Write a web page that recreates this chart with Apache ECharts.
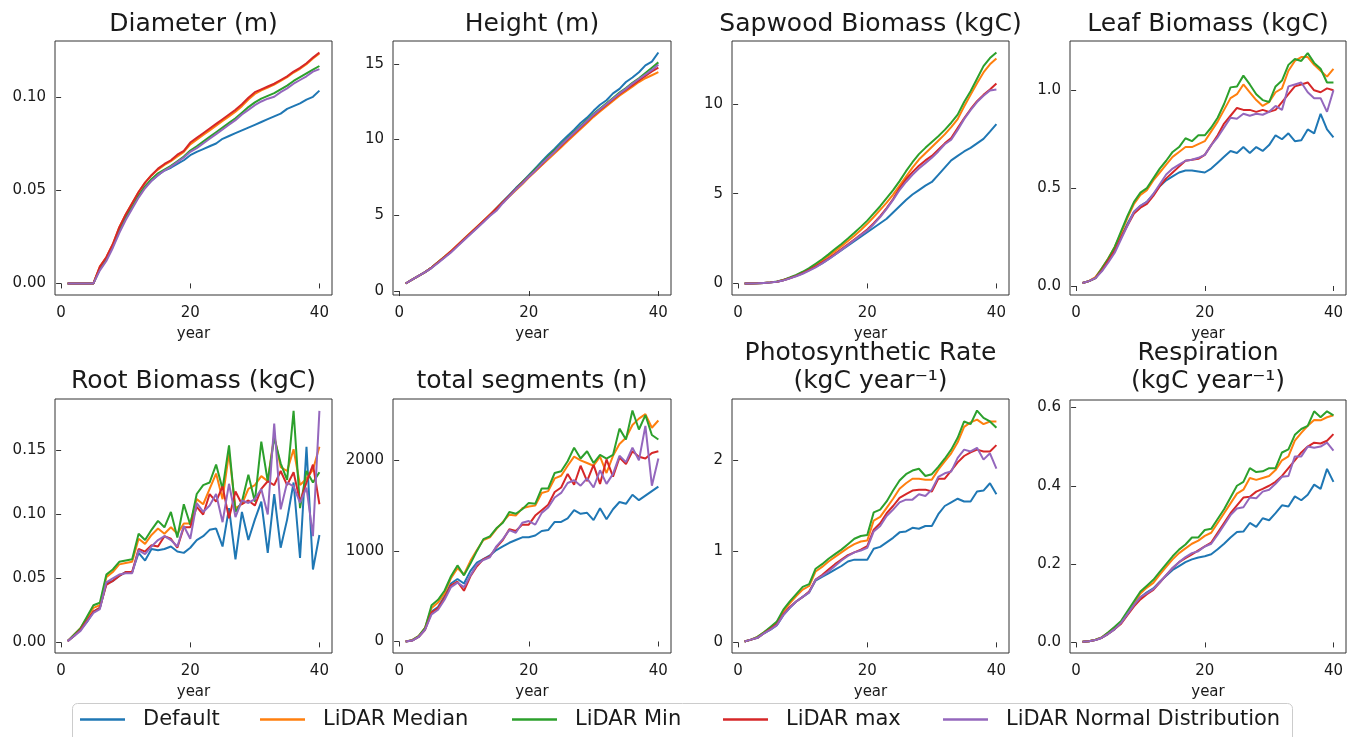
<!DOCTYPE html>
<html>
<head>
<meta charset="utf-8">
<script src="https://cdn.jsdelivr.net/npm/echarts@6/dist/echarts.min.js"></script>
<style>html,body{margin:0;padding:0;background:#fff;}#c{width:1354px;height:737px;}</style>
</head>
<body>
<div id="c"></div>
<script>
const years = [1,2,3,4,5,6,7,8,9,10,11,12,13,14,15,16,17,18,19,20,21,22,23,24,25,26,27,28,29,30,31,32,33,34,35,36,37,38,39,40];
const seriesNames = ['Default','LiDAR Median','LiDAR Min','LiDAR max','LiDAR Normal Distribution'];
const colors = ['#1f77b4','#ff7f0e','#2ca02c','#d62728','#9467bd'];

// order of each panel: Default, Median, Min, max, Normal
const diameter = [
  [0,0,0,0,0,0.008,0.013,0.020,0.028,0.035,0.041,0.047,0.052,0.055,0.058,0.0605,0.062,0.064,0.066,0.0687,0.0705,0.072,0.0735,0.075,0.0775,0.079,0.0805,0.082,0.0835,0.085,0.0865,0.088,0.0895,0.091,0.0935,0.095,0.0965,0.0985,0.1,0.1033],
  [0,0,0,0,0,0.009,0.014,0.021,0.030,0.037,0.043,0.049,0.054,0.058,0.061,0.0635,0.0655,0.068,0.0705,0.0745,0.077,0.0795,0.082,0.0845,0.087,0.0895,0.092,0.095,0.0985,0.1015,0.1035,0.105,0.1065,0.1085,0.1105,0.113,0.115,0.1175,0.1205,0.1232],
  [0,0,0,0,0,0.008,0.013,0.020,0.029,0.036,0.041,0.047,0.052,0.056,0.059,0.061,0.063,0.0655,0.068,0.0712,0.0735,0.076,0.0785,0.081,0.0835,0.086,0.0885,0.0915,0.0945,0.097,0.099,0.1005,0.102,0.104,0.106,0.1085,0.1105,0.1125,0.1145,0.1165],
  [0,0,0,0,0,0.009,0.014,0.021,0.030,0.037,0.043,0.049,0.054,0.058,0.0615,0.064,0.066,0.069,0.071,0.0755,0.078,0.0805,0.083,0.0855,0.088,0.0905,0.093,0.096,0.0995,0.1025,0.104,0.1055,0.107,0.109,0.111,0.1135,0.1155,0.118,0.121,0.1237],
  [0,0,0,0,0,0.007,0.012,0.019,0.027,0.034,0.040,0.046,0.051,0.055,0.058,0.0605,0.0625,0.065,0.0675,0.0705,0.0725,0.075,0.0775,0.08,0.0825,0.085,0.0875,0.0905,0.093,0.0955,0.0975,0.099,0.1,0.1025,0.1045,0.107,0.109,0.111,0.1135,0.1148]
];
const height = [
  [0.5,0.75,1.0,1.25,1.55,1.9,2.25,2.6,3.0,3.4,3.8,4.2,4.6,5.0,5.45,5.9,6.35,6.8,7.2,7.65,8.1,8.55,9.0,9.4,9.85,10.25,10.65,11.1,11.45,11.9,12.3,12.6,13.05,13.35,13.8,14.1,14.45,14.9,15.15,15.75],
  [0.5,0.75,1.0,1.25,1.55,1.92,2.28,2.65,3.05,3.45,3.85,4.25,4.65,5.05,5.45,5.85,6.25,6.65,7.05,7.5,7.9,8.3,8.7,9.1,9.5,9.9,10.3,10.7,11.1,11.5,11.85,12.2,12.55,12.9,13.2,13.5,13.8,14.05,14.25,14.45],
  [0.5,0.75,1.0,1.25,1.55,1.9,2.25,2.6,3.0,3.4,3.8,4.2,4.6,5.0,5.45,5.9,6.3,6.75,7.2,7.6,8.05,8.45,8.9,9.3,9.7,10.1,10.5,10.9,11.3,11.7,12.05,12.4,12.75,13.1,13.4,13.75,14.05,14.4,14.75,15.1],
  [0.5,0.75,1.0,1.25,1.55,1.9,2.25,2.62,3.02,3.42,3.82,4.22,4.62,5.02,5.45,5.88,6.3,6.72,7.15,7.55,7.95,8.35,8.8,9.2,9.6,10.0,10.4,10.8,11.2,11.6,11.95,12.3,12.65,13.0,13.3,13.6,13.9,14.2,14.5,14.75],
  [0.5,0.75,1.0,1.25,1.52,1.85,2.2,2.55,2.95,3.35,3.75,4.15,4.55,4.95,5.3,5.8,6.25,6.7,7.1,7.55,7.95,8.4,8.8,9.2,9.65,10.05,10.45,10.85,11.25,11.65,12.0,12.35,12.7,13.05,13.35,13.7,14.0,14.3,14.6,14.95]
];
const sapwood = [
  [0,0,0.01,0.03,0.06,0.1,0.18,0.3,0.42,0.58,0.75,0.92,1.12,1.35,1.6,1.85,2.1,2.35,2.6,2.85,3.1,3.35,3.6,3.95,4.3,4.65,4.95,5.2,5.45,5.65,6.05,6.45,6.85,7.1,7.35,7.55,7.8,8.05,8.45,8.87],
  [0,0,0.01,0.03,0.06,0.1,0.19,0.31,0.45,0.62,0.8,1.03,1.27,1.53,1.8,2.08,2.36,2.66,2.98,3.32,3.7,4.1,4.5,4.95,5.45,5.95,6.45,6.9,7.25,7.6,7.95,8.3,8.7,9.15,9.85,10.5,11.15,11.75,12.2,12.53],
  [0,0,0.01,0.03,0.06,0.11,0.2,0.33,0.48,0.65,0.85,1.1,1.35,1.62,1.92,2.2,2.5,2.82,3.15,3.5,3.9,4.3,4.75,5.2,5.7,6.25,6.75,7.2,7.55,7.88,8.2,8.55,8.95,9.4,10.1,10.7,11.4,12.1,12.55,12.86],
  [0,0,0.01,0.03,0.06,0.1,0.18,0.29,0.42,0.57,0.75,0.95,1.17,1.4,1.65,1.92,2.18,2.45,2.72,3.0,3.35,3.75,4.2,4.7,5.3,5.8,6.2,6.55,6.85,7.1,7.45,7.8,8.1,8.65,9.2,9.7,10.15,10.5,10.8,11.13],
  [0,0,0.01,0.03,0.05,0.09,0.17,0.28,0.4,0.54,0.71,0.9,1.12,1.35,1.6,1.87,2.14,2.42,2.7,2.95,3.3,3.7,4.15,4.65,5.2,5.65,6.05,6.4,6.7,7.0,7.35,7.75,8.0,8.55,9.15,9.65,10.1,10.45,10.75,10.8]
];
const leaf = [
  [0.015,0.025,0.04,0.08,0.13,0.18,0.25,0.32,0.38,0.41,0.43,0.47,0.51,0.54,0.56,0.58,0.59,0.59,0.585,0.58,0.6,0.63,0.66,0.69,0.68,0.71,0.68,0.71,0.69,0.72,0.77,0.75,0.78,0.74,0.745,0.8,0.78,0.88,0.8,0.76],
  [0.015,0.025,0.045,0.09,0.14,0.2,0.27,0.35,0.42,0.465,0.49,0.54,0.58,0.62,0.66,0.685,0.71,0.71,0.725,0.74,0.79,0.84,0.9,0.96,0.98,1.03,0.99,0.95,0.92,0.94,0.99,1.01,1.1,1.15,1.17,1.17,1.13,1.1,1.07,1.11],
  [0.015,0.025,0.04,0.09,0.14,0.2,0.28,0.36,0.43,0.477,0.5,0.55,0.6,0.64,0.685,0.71,0.755,0.74,0.77,0.77,0.81,0.86,0.93,1.015,1.02,1.075,1.03,0.98,0.95,0.94,1.02,1.05,1.13,1.16,1.15,1.19,1.14,1.11,1.04,1.04],
  [0.015,0.025,0.04,0.08,0.13,0.18,0.25,0.31,0.37,0.4,0.42,0.46,0.51,0.55,0.58,0.61,0.64,0.645,0.65,0.67,0.72,0.77,0.83,0.87,0.91,0.9,0.9,0.89,0.9,0.89,0.9,0.94,0.98,1.02,1.03,1.04,1.0,0.99,1.01,1.0],
  [0.015,0.025,0.04,0.075,0.12,0.17,0.24,0.31,0.38,0.41,0.43,0.47,0.52,0.57,0.6,0.62,0.64,0.645,0.655,0.67,0.72,0.76,0.81,0.86,0.855,0.88,0.87,0.88,0.875,0.89,0.92,0.9,1.02,1.03,1.04,0.99,0.96,0.96,0.89,1.0]
];
const root = [
  [0.001,0.005,0.01,0.016,0.024,0.027,0.046,0.048,0.052,0.055,0.055,0.07,0.064,0.073,0.072,0.073,0.075,0.071,0.07,0.074,0.08,0.083,0.088,0.089,0.075,0.105,0.065,0.102,0.08,0.096,0.11,0.07,0.116,0.074,0.096,0.125,0.066,0.153,0.057,0.084],
  [0.001,0.006,0.011,0.019,0.027,0.029,0.051,0.055,0.061,0.062,0.063,0.081,0.077,0.084,0.089,0.085,0.09,0.085,0.093,0.093,0.112,0.108,0.12,0.132,0.112,0.148,0.105,0.108,0.12,0.123,0.13,0.126,0.162,0.137,0.134,0.151,0.123,0.128,0.135,0.153],
  [0.001,0.006,0.011,0.02,0.029,0.031,0.053,0.057,0.063,0.064,0.065,0.085,0.08,0.088,0.095,0.09,0.102,0.082,0.108,0.092,0.116,0.123,0.125,0.139,0.12,0.154,0.102,0.11,0.131,0.11,0.157,0.126,0.16,0.14,0.127,0.181,0.105,0.134,0.125,0.133],
  [0.001,0.005,0.01,0.017,0.024,0.027,0.045,0.048,0.052,0.055,0.055,0.073,0.071,0.076,0.075,0.083,0.081,0.074,0.09,0.09,0.106,0.1,0.116,0.11,0.122,0.097,0.118,0.108,0.111,0.107,0.12,0.126,0.123,0.134,0.123,0.133,0.11,0.125,0.139,0.108],
  [0.001,0.005,0.009,0.016,0.023,0.026,0.047,0.05,0.053,0.054,0.054,0.072,0.069,0.075,0.08,0.083,0.08,0.075,0.091,0.081,0.109,0.102,0.107,0.116,0.094,0.124,0.098,0.111,0.109,0.112,0.12,0.1,0.171,0.104,0.125,0.122,0.109,0.121,0.083,0.181]
];
const segments = [
  [0,10,50,140,330,380,500,640,690,640,780,870,910,950,1010,1050,1090,1120,1150,1150,1170,1220,1230,1320,1320,1360,1450,1410,1420,1340,1470,1350,1460,1540,1520,1620,1560,1610,1660,1710],
  [0,15,60,150,370,430,530,700,810,740,890,1010,1120,1150,1240,1320,1400,1390,1470,1490,1500,1640,1660,1800,1830,1940,2040,2000,1970,1940,2040,1860,2050,2180,2250,2390,2460,2510,2360,2440],
  [0,15,60,150,400,460,560,720,840,730,860,1000,1130,1160,1250,1310,1430,1410,1460,1530,1520,1690,1690,1860,1880,1990,2140,2020,2100,1970,2060,2020,2060,2350,2230,2550,2340,2500,2280,2230],
  [0,10,50,130,320,370,480,620,660,560,720,830,910,940,1040,1120,1240,1220,1290,1290,1390,1450,1510,1650,1700,1850,1730,1940,1770,1950,1740,2010,1820,2030,1960,2100,2040,2020,2080,2100],
  [0,10,50,130,300,350,460,600,650,600,730,850,900,930,1050,1130,1230,1200,1310,1330,1290,1420,1480,1590,1640,1750,1780,1720,1800,1700,1890,1740,1850,2050,1980,2140,2000,2380,1720,2020]
];
const photo = [
  [0.01,0.03,0.05,0.1,0.14,0.19,0.3,0.38,0.45,0.5,0.55,0.68,0.72,0.76,0.8,0.84,0.89,0.91,0.91,0.91,1.03,1.05,1.1,1.15,1.21,1.22,1.26,1.25,1.28,1.28,1.41,1.5,1.54,1.58,1.55,1.55,1.66,1.67,1.75,1.63],
  [0.01,0.03,0.06,0.11,0.16,0.22,0.34,0.43,0.51,0.58,0.62,0.78,0.83,0.89,0.94,0.99,1.04,1.08,1.11,1.12,1.34,1.38,1.48,1.58,1.69,1.75,1.8,1.8,1.79,1.79,1.9,1.99,2.08,2.2,2.37,2.42,2.45,2.4,2.43,2.43],
  [0.01,0.03,0.06,0.11,0.17,0.23,0.36,0.45,0.53,0.61,0.64,0.81,0.86,0.92,0.97,1.02,1.08,1.14,1.17,1.18,1.43,1.46,1.55,1.67,1.78,1.85,1.89,1.91,1.83,1.85,1.93,2.02,2.12,2.25,2.43,2.4,2.55,2.47,2.43,2.36],
  [0.01,0.03,0.05,0.1,0.15,0.2,0.31,0.39,0.45,0.5,0.56,0.69,0.74,0.8,0.86,0.91,0.96,0.99,1.02,1.06,1.24,1.31,1.42,1.5,1.59,1.63,1.67,1.68,1.68,1.66,1.8,1.8,1.89,1.98,2.05,2.09,2.12,2.1,2.1,2.17],
  [0.01,0.03,0.05,0.1,0.14,0.19,0.3,0.38,0.45,0.5,0.55,0.69,0.73,0.78,0.84,0.9,0.95,0.99,1.01,1.04,1.22,1.28,1.39,1.46,1.54,1.57,1.57,1.63,1.61,1.68,1.82,1.86,1.88,2.03,2.12,2.1,2.14,2.01,2.08,1.91]
];
const respiration = [
  [0.002,0.003,0.006,0.012,0.022,0.034,0.05,0.073,0.095,0.115,0.128,0.138,0.155,0.17,0.185,0.195,0.205,0.212,0.217,0.22,0.225,0.238,0.252,0.268,0.282,0.283,0.305,0.295,0.317,0.312,0.33,0.35,0.347,0.373,0.363,0.377,0.403,0.392,0.443,0.41],
  [0.002,0.003,0.007,0.013,0.025,0.038,0.053,0.077,0.1,0.125,0.14,0.152,0.173,0.193,0.212,0.228,0.24,0.252,0.26,0.272,0.28,0.305,0.33,0.355,0.38,0.39,0.42,0.415,0.42,0.425,0.44,0.465,0.475,0.515,0.535,0.553,0.568,0.567,0.575,0.58],
  [0.002,0.003,0.007,0.013,0.026,0.04,0.055,0.08,0.105,0.13,0.145,0.16,0.18,0.2,0.22,0.237,0.25,0.268,0.268,0.287,0.29,0.315,0.34,0.37,0.4,0.41,0.445,0.435,0.437,0.445,0.445,0.485,0.493,0.53,0.545,0.553,0.59,0.575,0.59,0.58],
  [0.002,0.003,0.006,0.012,0.022,0.034,0.048,0.07,0.092,0.11,0.123,0.134,0.153,0.172,0.19,0.205,0.215,0.225,0.235,0.245,0.255,0.28,0.305,0.33,0.35,0.37,0.372,0.385,0.392,0.4,0.41,0.425,0.445,0.465,0.485,0.5,0.51,0.508,0.515,0.532],
  [0.002,0.003,0.006,0.012,0.022,0.034,0.05,0.073,0.096,0.116,0.126,0.136,0.153,0.172,0.19,0.205,0.218,0.228,0.233,0.245,0.252,0.275,0.3,0.325,0.342,0.345,0.37,0.368,0.385,0.39,0.405,0.423,0.425,0.475,0.475,0.5,0.497,0.5,0.51,0.49]
];

const xTicks = [0,20,40];
const diameterTicks = [0,0.05,0.1];
const heightTicks = [0,5,10,15];
const sapwoodTicks = [0,5,10];
const leafTicks = [0,0.5,1.0];
const rootTicks = [0,0.05,0.1,0.15];
const segmentTicks = [0,1000,2000];
const photoTicks = [0,1,2];
const respTicks = [0,0.2,0.4,0.6];

const FONT = 'DejaVu Sans';
const TXT = '#1a1a1a';

const panels = [
  {title:['Diameter (m)'], data:diameter, ticks:diameterTicks, dec:2, min:-0.0062, max:0.1299, box:[55,41,277,254]},
  {title:['Height (m)'], data:height, ticks:heightTicks, dec:0, min:-0.26, max:16.51, box:[393,41,278,254]},
  {title:['Sapwood Biomass (kgC)'], data:sapwood, ticks:sapwoodTicks, dec:0, min:-0.643, max:13.5, box:[732,41,277,254]},
  {title:['Leaf Biomass (kgC)'], data:leaf, ticks:leafTicks, dec:1, min:-0.046, max:1.252, box:[1070,41,276,254]},
  {title:['Root Biomass (kgC)'], data:root, ticks:rootTicks, dec:2, min:-0.0083, max:0.1903, box:[55,399,277,254]},
  {title:['total segments (n)'], data:segments, ticks:segmentTicks, dec:0, min:-127, max:2677, box:[393,399,278,254]},
  {title:['Photosynthetic Rate','(kgC year\u207B\u00B9)'], data:photo, ticks:photoTicks, dec:0, min:-0.117, max:2.677, box:[732,399,277,254]},
  {title:['Respiration','(kgC year\u207B\u00B9)'], data:respiration, ticks:respTicks, dec:1, min:-0.027, max:0.619, box:[1070,400,276,253]}
];

const grid = [], xAxis = [], yAxis = [], series = [], graphic = [];
graphic.push({type:'rect', shape:{x:72.5, y:703.5, width:1220, height:60, r:5}, style:{fill:'#fff', stroke:'#cccccc', lineWidth:1}, z:-10, silent:true});

const TITLE_SIZE = 25;
panels.forEach((p, gi) => {
  const [l,t,w,h] = p.box;
  grid.push({left:l, top:t, width:w, height:h, show:true, borderColor:'#333', borderWidth:1, backgroundColor:'transparent', containLabel:false, outerBoundsMode:'none'});
  xAxis.push({
    type:'value', gridIndex:gi, min:-0.95, max:41.95,
    name:'year', nameLocation:'middle', nameGap:32,
    nameTextStyle:{fontSize:15, color:TXT, fontFamily:FONT},
    axisLine:{show:false}, splitLine:{show:false},
    axisTick:{show:true, length:5, customValues:xTicks, lineStyle:{color:'#333', width:1}},
    axisLabel:{customValues:xTicks, fontSize:15, color:TXT, fontFamily:FONT, margin:11, showMinLabel:true, showMaxLabel:true}
  });
  yAxis.push({
    type:'value', gridIndex:gi, min:p.min, max:p.max,
    axisLine:{show:false}, splitLine:{show:false},
    axisTick:{show:true, length:5, customValues:p.ticks, lineStyle:{color:'#333', width:1}},
    axisLabel:{customValues:p.ticks, fontSize:15, color:TXT, fontFamily:FONT, margin:9,
      formatter: v => Number(v).toFixed(p.dec)}
  });
  p.data.forEach((arr, si) => {
    series.push({
      type:'line', name:seriesNames[si], xAxisIndex:gi, yAxisIndex:gi,
      data: years.map((yr, i) => [yr, arr[i]]),
      showSymbol:false, symbol:'none', smooth:false,
      lineStyle:{color:colors[si], width:2}, itemStyle:{color:colors[si]},
      z: 2 + si, animation:false
    });
  });
  const cx = l + w / 2;
  if (p.title.length === 1) {
    graphic.push({type:'text', x:cx, y:t - (gi < 4 ? 17 : 17.5), silent:true,
      style:{text:p.title[0], fontSize:TITLE_SIZE, fontFamily:FONT, fill:TXT, textAlign:'center', textVerticalAlign:'middle'}});
  } else {
    graphic.push({type:'text', x:cx, y:353, silent:true,
      style:{text:p.title[0], fontSize:TITLE_SIZE, fontFamily:FONT, fill:TXT, textAlign:'center', textVerticalAlign:'middle'}});
    graphic.push({type:'text', x:cx, y:381.5, silent:true,
      style:{text:p.title[1], fontSize:TITLE_SIZE, fontFamily:FONT, fill:TXT, textAlign:'center', textVerticalAlign:'middle'}});
  }
});

const legendLefts = [80, 260, 512, 723, 943];
const legend = seriesNames.map((n, i) => ({
  data:[n], left:legendLefts[i], top:709, icon:'rect', itemWidth:45, itemHeight:2.5,
  padding:0, selectedMode:false,
  textStyle:{fontSize:21, color:TXT, fontFamily:FONT, padding:[0,0,0,13]}
}));

const chart = echarts.init(document.getElementById('c'), null, {renderer:'canvas'});
chart.setOption({
  animation:false,
  color:colors,
  grid, xAxis, yAxis, series, legend, graphic
});
</script>
</body>
</html>
